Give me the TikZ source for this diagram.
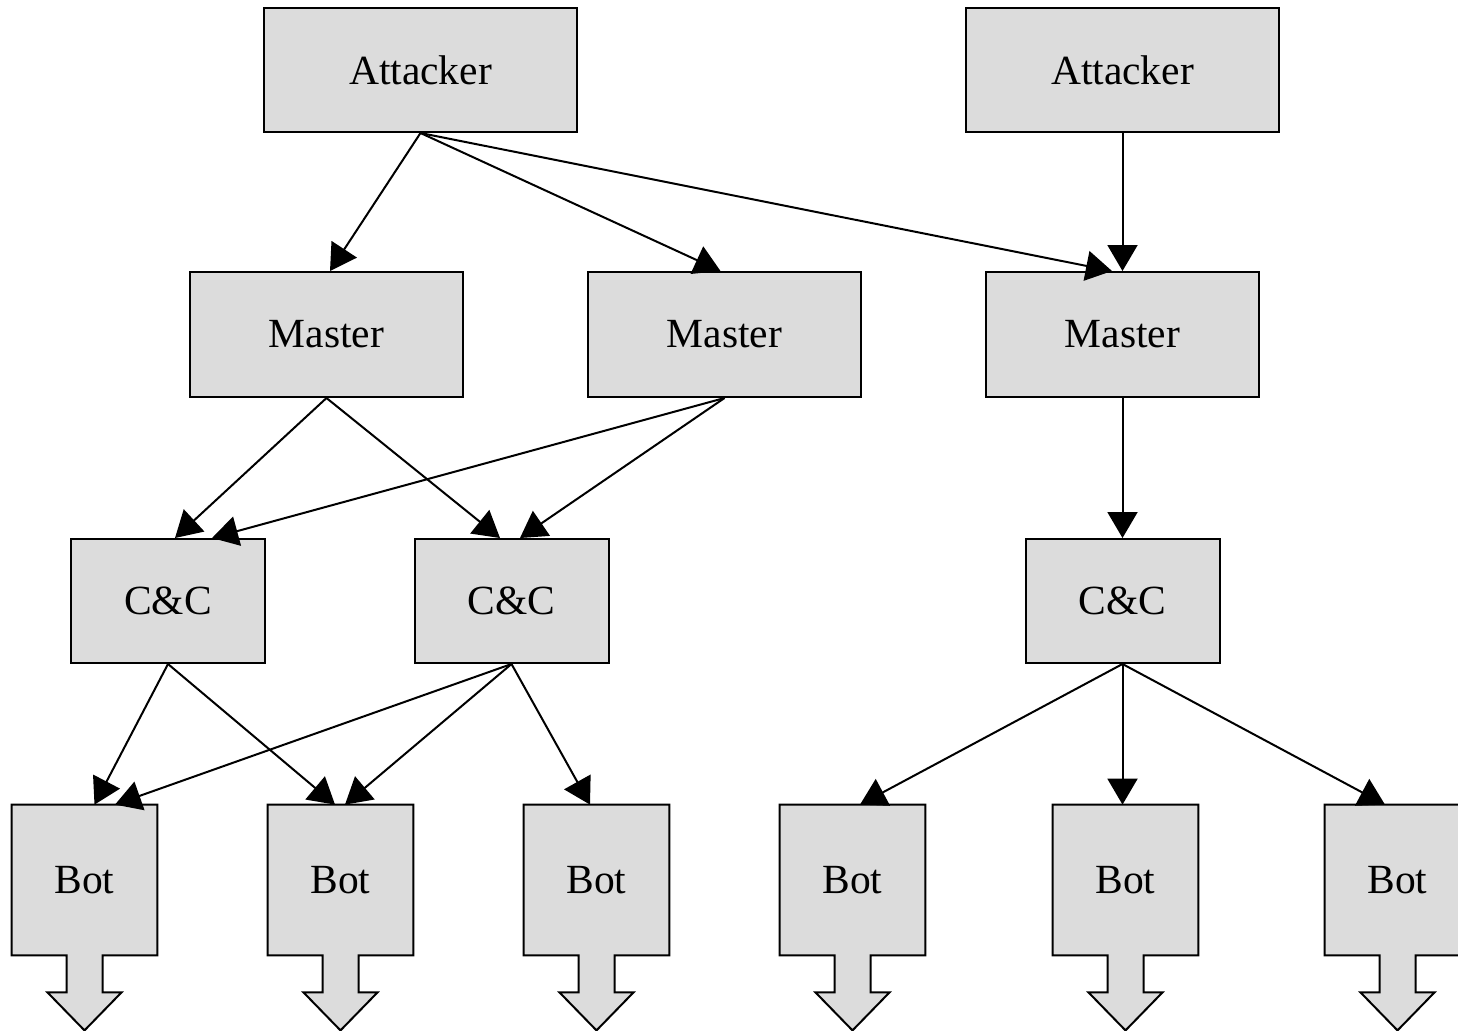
\documentclass[tikz,border=0pt]{standalone}
\usepackage{fontspec}
\setmainfont{Liberation Serif}
\usetikzlibrary{arrows.meta,backgrounds}
\definecolor{boxgray}{RGB}{220,220,220}
\begin{document}
\begin{tikzpicture}[x=0.5pt,y=-0.5pt,
  lbl/.style={font=\fontsize{20.75}{24}\selectfont},
  box/.style={lbl,draw=black,fill=boxgray,line width=1pt,inner sep=0pt},
  attbox/.style={box,minimum width=156.5pt,minimum height=62pt},
  mastbox/.style={box,minimum width=136.5pt,minimum height=62.5pt},
  ccbox/.style={box,minimum width=97pt,minimum height=62pt},
  botbox/.style={lbl,inner sep=0pt,minimum width=72.5pt,minimum height=75pt,text depth=-5pt},
  outline/.style={draw=black,fill=boxgray,line width=1pt,line join=miter},
  conn/.style={line width=1pt,-{Triangle[length=13pt,width=15pt]}}]
\useasboundingbox (0,0) rectangle (1458,1030);
\clip (0,0) rectangle (1458,1030);
\node[attbox] (a1) at (420.5,70) {Attacker};
\node[attbox] (a2) at (1122.5,70) {Attacker};
\node[mastbox] (m1) at (326.5,334.5) {Master};
\node[mastbox] (m2) at (724.5,334.5) {Master};
\node[mastbox] (m3) at (1122.5,334.5) {Master};
\node[ccbox] (c1) at (168,601) {C\&C};
\node[ccbox] (c2) at (511.5,601) {C\&C};
\node[ccbox] (c3) at (1122.5,601) {C\&C};
\node[botbox] (b1) at (84.5,880) {Bot};
\node[botbox] (b2) at (340.5,880) {Bot};
\node[botbox] (b3) at (596.5,880) {Bot};
\node[botbox] (b4) at (852.5,880) {Bot};
\node[botbox] (b5) at (1125.5,880) {Bot};
\node[botbox] (b6) at (1397.5,880) {Bot};
\begin{scope}[on background layer]
\foreach \b in {b1,b2,b3,b4,b5,b6}{
  \path[outline] (\b.south east) -- (\b.north east) -- (\b.north west) -- (\b.south west)
    -- ([xshift=-9pt]\b.south) -- ++(0,37) -- ++(-19,0) -- ++(37,38) -- ++(37,-38)
    -- ++(-19,0) -- ++(0,-37) -- cycle;
}
\end{scope}
\draw[conn] (a1.south) -- ([xshift=1.75pt]m1.north);
\draw[conn] (a1.south) -- ([xshift=-2pt]m2.north);
\draw[conn] (a1.south) -- ([xshift=-5.25pt]m3.north);
\draw[conn] (a2.south) -- (m3.north);
\draw[conn] (m1.south) -- ([xshift=3.5pt]c1.north);
\draw[conn] (m1.south) -- ([xshift=-5.75pt]c2.north);
\draw[conn] (m2.south) -- ([xshift=22pt]c1.north);
\draw[conn] (m2.south) -- ([xshift=4.25pt]c2.north);
\draw[conn] (m3.south) -- (c3.north);
\draw[conn] (c1.south) -- ([xshift=5pt]b1.north);
\draw[conn] (c1.south) -- ([xshift=-2.75pt]b2.north);
\draw[conn] (c2.south) -- ([xshift=15.25pt]b1.north);
\draw[conn] (c2.south) -- ([xshift=2.25pt]b2.north);
\draw[conn] (c2.south) -- ([xshift=-3.25pt]b3.north);
\draw[conn] (c3.south) -- ([xshift=3.75pt]b4.north);
\draw[conn] (c3.south) -- (c3.south |- b5.north);
\draw[conn] (c3.south) -- ([xshift=-6.25pt]b6.north);
\end{tikzpicture}
\end{document}
